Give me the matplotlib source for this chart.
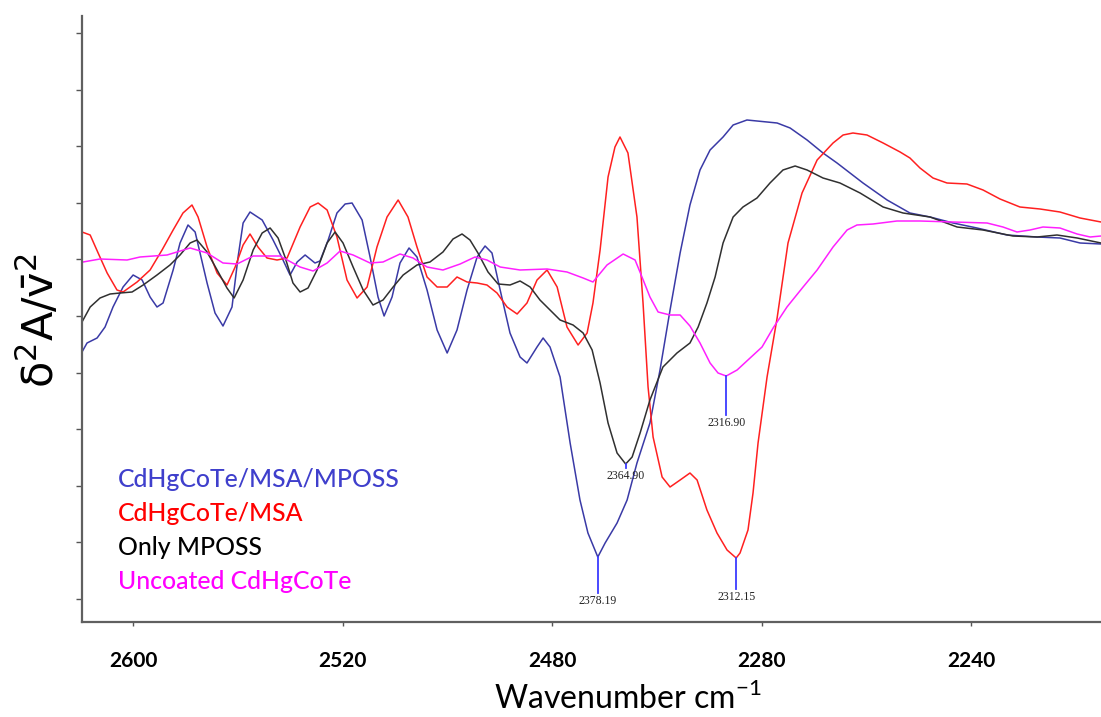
import numpy as np
import matplotlib
matplotlib.use("Agg")
import matplotlib.pyplot as plt

# Second derivative FTIR spectra (arbitrary units), wavenumber in cm-1
wn_blue = [2624.4, 2622.0, 2617.2, 2613.4, 2609.6, 2604.8, 2600.0, 2595.7, 2591.9, 2588.6,
           2585.7, 2580.9, 2577.6, 2573.8, 2570.4, 2564.7, 2560.9, 2557.1, 2552.8, 2549.9,
           2547.5, 2544.2, 2538.4, 2533.2, 2528.9, 2525.1, 2521.7, 2517.9, 2513.2, 2510.8,
           2506.9, 2502.7, 2498.8, 2495.5, 2490.7, 2486.9, 2483.1, 2480.2, 2476.4, 2472.6,
           2468.3, 2464.5, 2459.7, 2454.9, 2450.1, 2445.4, 2440.6, 2435.8, 2432.0, 2428.7,
           2424.8, 2420.1, 2415.3, 2412.0, 2407.2, 2404.3, 2401.0, 2396.2, 2391.4, 2386.7,
           2382.9, 2378.19, 2374.7, 2369.0, 2364.2, 2359.5, 2353.3, 2348.5, 2343.7, 2338.9,
           2334.2, 2329.4, 2324.6, 2318.4, 2313.6, 2307.0, 2302.2, 2292.6, 2286.4, 2278.3,
           2270.7, 2264.0, 2251.6, 2240.1, 2229.2, 2219.6, 2208.6, 2197.2, 2182.9, 2168.5,
           2157.6, 2148.0, 2138.0]
y_blue = [2.47, 2.56, 2.61, 2.72, 2.92, 3.12, 3.24, 3.19, 3.02, 2.92,
          2.96, 3.29, 3.56, 3.74, 3.67, 3.16, 2.86, 2.73, 2.92, 3.42,
          3.76, 3.87, 3.79, 3.59, 3.41, 3.24, 3.37, 3.44, 3.36, 3.38,
          3.59, 3.86, 3.95, 3.96, 3.79, 3.42, 3.02, 2.83, 3.02, 3.36,
          3.51, 3.42, 3.09, 2.69, 2.46, 2.69, 3.09, 3.42, 3.53, 3.46,
          3.09, 2.66, 2.42, 2.36, 2.52, 2.61, 2.52, 2.22, 1.56, 0.99,
          0.66, 0.42, 0.56, 0.76, 0.99, 1.36, 1.76, 2.29, 2.89, 3.46,
          3.94, 4.29, 4.49, 4.62, 4.74, 4.79, 4.78, 4.76, 4.71, 4.59,
          4.46, 4.36, 4.16, 3.99, 3.86, 3.82, 3.76, 3.71, 3.64, 3.62,
          3.61, 3.56, 3.55]

wn_red = [2624.4, 2620.5, 2616.7, 2612.4, 2607.7, 2604.8, 2598.1, 2591.9, 2586.2, 2580.9,
          2576.2, 2571.9, 2569.0, 2564.7, 2559.9, 2555.2, 2551.3, 2547.5, 2544.2, 2540.4,
          2536.1, 2531.3, 2526.5, 2520.3, 2515.5, 2511.7, 2507.4, 2502.7, 2497.9, 2493.1,
          2488.3, 2483.6, 2478.8, 2473.5, 2468.8, 2464.5, 2459.7, 2454.9, 2450.1, 2445.4,
          2440.6, 2435.8, 2431.1, 2426.3, 2421.5, 2416.7, 2412.0, 2407.2, 2402.4, 2397.6,
          2392.9, 2387.6, 2383.3, 2380.5, 2377.1, 2373.3, 2370.0, 2367.6, 2363.8, 2359.5,
          2356.6, 2354.2, 2351.8, 2347.5, 2343.7, 2338.9, 2334.2, 2330.8, 2326.1, 2321.3,
          2316.5, 2312.15, 2310.3, 2306.5, 2304.1, 2301.7, 2297.4, 2292.6, 2287.4, 2280.7,
          2273.5, 2265.9, 2261.1, 2256.4, 2249.7, 2242.0, 2233.9, 2229.2, 2224.4, 2218.2,
          2211.5, 2202.0, 2194.3, 2186.2, 2176.7, 2167.1, 2157.6, 2148.0, 2138.0]
y_red = [3.67, 3.64, 3.46, 3.26, 3.09, 3.07, 3.17, 3.29, 3.49, 3.69,
         3.86, 3.94, 3.82, 3.52, 3.26, 3.14, 3.32, 3.54, 3.65, 3.52,
         3.41, 3.39, 3.41, 3.72, 3.92, 3.96, 3.89, 3.62, 3.19, 3.01,
         3.12, 3.52, 3.82, 3.99, 3.82, 3.52, 3.22, 3.12, 3.12, 3.22,
         3.17, 3.16, 3.14, 3.06, 2.92, 2.85, 2.96, 3.19, 3.29, 3.12,
         2.72, 2.54, 2.66, 2.96, 3.49, 4.22, 4.52, 4.62, 4.46, 3.82,
         2.96, 2.12, 1.62, 1.22, 1.12, 1.19, 1.26, 1.19, 0.89, 0.66,
         0.49, 0.41, 0.46, 0.69, 1.06, 1.56, 2.22, 2.81, 3.56, 4.06,
         4.39, 4.56, 4.64, 4.66, 4.64, 4.56, 4.47, 4.41, 4.31, 4.21,
         4.16, 4.15, 4.09, 4.00, 3.92, 3.90, 3.87, 3.81, 3.77]

wn_black = [2624.4, 2620.5, 2615.8, 2611.0, 2606.2, 2600.5, 2595.2, 2588.6, 2582.4, 2577.6,
            2572.8, 2569.5, 2564.7, 2559.9, 2555.2, 2551.8, 2547.5, 2542.7, 2538.4, 2534.6,
            2530.8, 2527.5, 2523.7, 2520.3, 2516.5, 2512.2, 2507.4, 2503.6, 2499.8, 2495.0,
            2490.2, 2485.5, 2480.7, 2475.9, 2471.1, 2464.5, 2458.3, 2452.1, 2447.3, 2443.0,
            2439.2, 2435.4, 2430.6, 2425.8, 2420.1, 2415.3, 2410.5, 2405.8, 2401.0, 2396.2,
            2390.0, 2385.2, 2380.9, 2377.1, 2373.3, 2369.0, 2364.9, 2361.8, 2358.0, 2353.3,
            2347.1, 2340.4, 2334.2, 2330.3, 2326.1, 2322.2, 2318.4, 2313.6, 2308.9, 2302.2,
            2296.0, 2289.8, 2284.0, 2278.3, 2270.7, 2262.6, 2253.0, 2242.0, 2232.5, 2219.6,
            2206.7, 2194.3, 2180.0, 2168.5, 2159.0, 2149.4, 2138.0]
y_black = [2.77, 2.92, 3.01, 3.05, 3.06, 3.07, 3.14, 3.24, 3.34, 3.44,
           3.56, 3.59, 3.47, 3.29, 3.11, 3.01, 3.19, 3.49, 3.66, 3.71,
           3.61, 3.42, 3.16, 3.07, 3.11, 3.29, 3.56, 3.67, 3.56, 3.32,
           3.09, 2.94, 2.99, 3.12, 3.24, 3.34, 3.37, 3.47, 3.60, 3.65,
           3.59, 3.46, 3.27, 3.15, 3.14, 3.18, 3.12, 2.99, 2.89, 2.79,
           2.74, 2.66, 2.49, 2.16, 1.76, 1.46, 1.35, 1.42, 1.66, 1.99,
           2.32, 2.46, 2.56, 2.72, 2.96, 3.22, 3.56, 3.82, 3.92, 4.01,
           4.16, 4.29, 4.33, 4.29, 4.21, 4.16, 4.06, 3.92, 3.86, 3.82,
           3.72, 3.69, 3.63, 3.62, 3.64, 3.61, 3.56]

wn_magenta = [2623.9, 2615.8, 2602.9, 2596.7, 2583.8, 2572.8, 2564.7, 2557.1, 2550.4, 2542.7,
              2529.9, 2520.3, 2514.1, 2507.4, 2501.2, 2495.0, 2486.9, 2480.7, 2472.6, 2466.4,
              2459.7, 2452.1, 2443.9, 2436.8, 2431.1, 2424.8, 2415.3, 2402.4, 2392.9, 2385.2,
              2380.5, 2373.8, 2366.1, 2360.4, 2357.1, 2353.3, 2349.4, 2343.7, 2338.9, 2334.2,
              2329.4, 2324.6, 2320.8, 2316.9, 2311.7, 2305.5, 2299.8, 2294.5, 2287.9, 2280.2,
              2273.5, 2265.9, 2259.2, 2254.5, 2246.8, 2235.4, 2224.4, 2208.6, 2192.4, 2184.8,
              2178.1, 2171.9, 2165.7, 2157.6, 2149.4, 2143.2, 2138.0]
y_magenta = [3.37, 3.40, 3.39, 3.42, 3.44, 3.51, 3.46, 3.36, 3.35, 3.43,
             3.43, 3.32, 3.28, 3.36, 3.48, 3.44, 3.36, 3.37, 3.45, 3.41,
             3.32, 3.29, 3.35, 3.42, 3.39, 3.32, 3.29, 3.30, 3.27, 3.21,
             3.17, 3.34, 3.45, 3.39, 3.22, 3.02, 2.87, 2.84, 2.84, 2.73,
             2.56, 2.36, 2.26, 2.23, 2.29, 2.41, 2.52, 2.71, 2.92, 3.12,
             3.29, 3.52, 3.69, 3.74, 3.75, 3.78, 3.78, 3.77, 3.76, 3.72,
             3.67, 3.69, 3.72, 3.71, 3.65, 3.62, 3.63]

series_names = ["CdHgCoTe/MSA/MPOSS", "CdHgCoTe/MSA", "Only MPOSS", "Uncoated CdHgCoTe"]
line_colors = ["#3a3aa6", "#ff2020", "#303030", "#ff20ff"]
text_colors = ["#3f3fcc", "#ff0000", "#000000", "#ff00ff"]

# peak picks: wavenumber, depth of the minimum, end of marker line
peak_wn = [2378.19, 2312.15, 2364.90, 2316.90]
peak_y = [0.42, 0.41, 1.35, 2.23]
peak_end = [0.06, 0.10, 1.31, 1.84]
peak_text = ["2378.19", "2312.15", "2364.90", "2316.90"]

# axis tick labels exactly as printed on the original figure
xtick_pos = [2600, 2500, 2400, 2300, 2200]
xtick_labels = ["2600", "2520", "2480", "2280", "2240"]

plt.rcParams["mathtext.fontset"] = "dejavusans"

fig = plt.figure(figsize=(11.01, 7.17), dpi=100)
ax = fig.add_axes([82 / 1101, 1 - 622 / 717, 1 - 82 / 1101, (622 - 16) / 717])

ax.plot(wn_blue, y_blue, color=line_colors[0], lw=1.1)
ax.plot(wn_red, y_red, color=line_colors[1], lw=1.1)
ax.plot(wn_black, y_black, color=line_colors[2], lw=1.1)
ax.plot(wn_magenta, y_magenta, color=line_colors[3], lw=1.1)

for w, y0, y1, t in zip(peak_wn, peak_y, peak_end, peak_text):
    ax.plot([w, w], [y0, y1], color="#3b3bff", lw=1.3)
    ax.text(w, y1 - 0.02, t, ha="center", va="top", fontsize=8.5,
            family="Liberation Serif", color="#222222")

ax.set_xlim(2624.4, 2138.0)
ax.set_ylim(-0.23, 5.83)

ax.set_xticks(xtick_pos)
ax.set_xticklabels(xtick_labels, fontsize=15, fontweight="bold", family="Lato")
ax.set_yticks(np.arange(11) * 0.566)
ax.set_yticklabels([])
ax.tick_params(axis="x", length=3, width=1, pad=18, color="#555555")
ax.tick_params(axis="y", length=4, width=1, color="#555555")

for s in ["top", "right"]:
    ax.spines[s].set_visible(False)
for s in ["left", "bottom"]:
    ax.spines[s].set_color("#606060")
    ax.spines[s].set_linewidth(1.6)

# colored text legend
for i, (name, c) in enumerate(zip(series_names, text_colors)):
    ax.text(0.035, 0.235 - i * 0.056, name, transform=ax.transAxes, color=c,
            fontsize=17.8, family="Lato", fontweight="medium", va="center", ha="left")

fig.text(628 / 1101, 1 - 709 / 717, "Wavenumber cm$^{\\mathregular{-1}}$", ha="center",
         va="baseline", fontsize=23, family="Lato")
fig.text(40 / 1101, 1 - 320 / 717, r"$\mathrm{δ}^2\mathrm{A}/\bar{\mathrm{v}}^2$", rotation=90,
         ha="center", va="center", fontsize=31)

fig.savefig("out.png", dpi=100)
